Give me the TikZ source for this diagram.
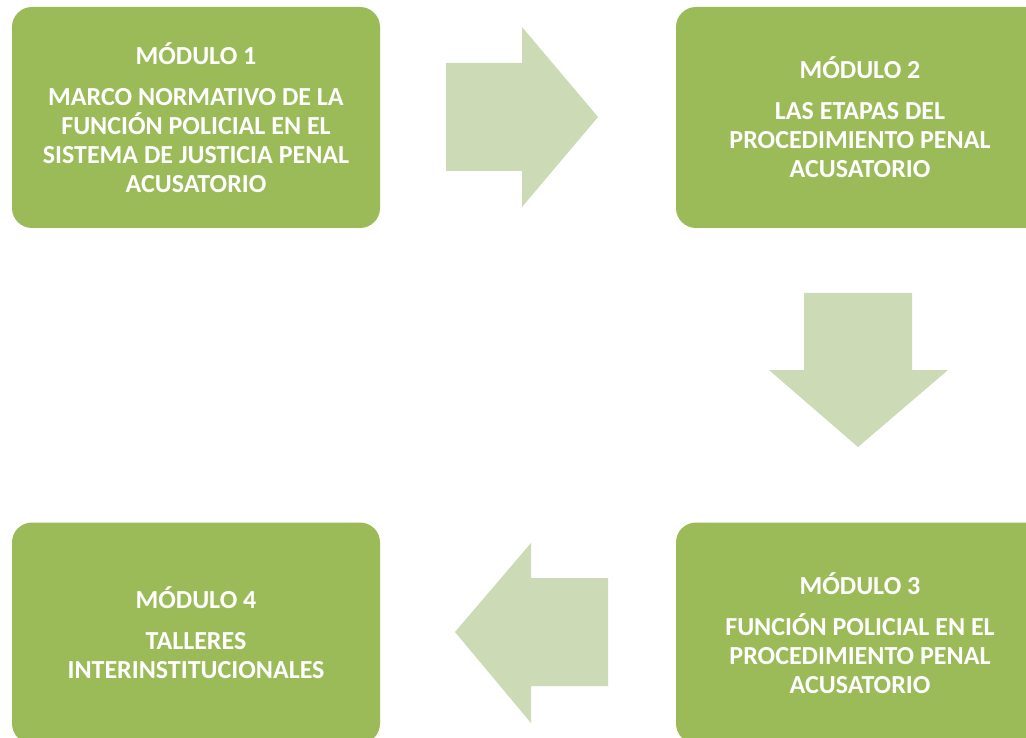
\documentclass[tikz,border=0pt]{standalone}
\usepackage{fontspec}
\setmainfont{Carlito}
\definecolor{boxgreen}{HTML}{9BBB59}
\definecolor{arrowgreen}{HTML}{CCDAB5}
\tikzset{
    modbox/.style={fill=boxgreen, rounded corners=20pt, minimum width=368pt, minimum height=221pt,
        text=white, align=center, font=\fontsize{26}{29}\selectfont\bfseries},
    flecha/.style={fill=arrowgreen}
}
\begin{document}
\begin{tikzpicture}[x=1pt,y=-1pt]
        \useasboundingbox (0,0) rectangle (1026,738);
        \clip (0,0) rectangle (1026,738);
        \fill[white] (0,0) rectangle (1026,738);
        \node[modbox] (m1) at (196,117.5) {MÓDULO 1\\[12pt]
            MARCO NORMATIVO DE LA\\ FUNCIÓN POLICIAL EN EL\\ SISTEMA DE JUSTICIA PENAL\\ ACUSATORIO};
        \node[modbox] (m2) at (860,117.5) {MÓDULO 2\\[12pt]
            LAS ETAPAS DEL\\ PROCEDIMIENTO PENAL\\ ACUSATORIO};
        \node[modbox] (m3) at (860,633) {MÓDULO 3\\[12pt]
            FUNCIÓN POLICIAL EN EL\\ PROCEDIMIENTO PENAL\\ ACUSATORIO};
        \node[modbox] (m4) at (196,633) {MÓDULO 4\\[12pt]
            TALLERES\\ INTERINSTITUCIONALES};
        % flechas entre modulos
        \fill[flecha] (446,63) -- (522,63) -- (522,27) -- (598,117) -- 
            (522,207) -- (522,171) -- (446,171) -- cycle;
        \fill[flecha] (804,293) -- (912,293) -- (912,370) -- (948,370) -- 
            (858,447) -- (769,370) -- (804,370) -- cycle;
        \fill[flecha] (608,578) -- (531,578) -- (531,543) -- (455,632) -- 
            (531,723) -- (531,686) -- (608,686) -- cycle;
    \end{tikzpicture}
\end{document}
